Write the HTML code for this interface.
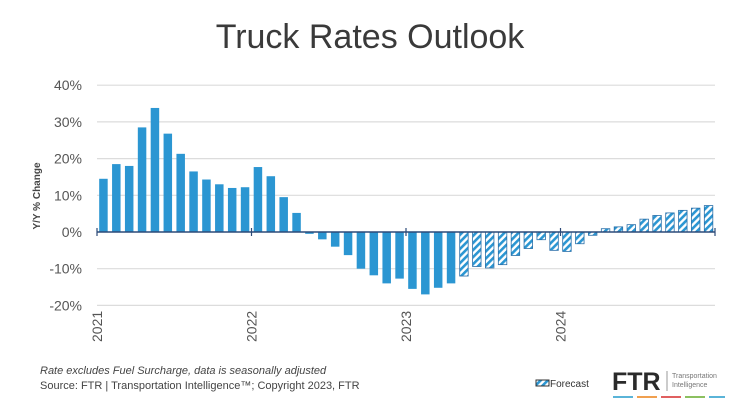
<!DOCTYPE html>
<html><head><meta charset="utf-8"><style>
body{margin:0;background:#fff;width:740px;height:405px;overflow:hidden;font-family:"Liberation Sans",sans-serif}
</style></head><body>
<svg width="740" height="405">
<defs><pattern id="hatch" patternUnits="userSpaceOnUse" width="5" height="5" patternTransform="rotate(45)"><rect width="5" height="5" fill="#fff"/><rect width="2.6" height="5" fill="#2b96d2"/></pattern></defs>
<text x="370" y="48" text-anchor="middle" font-size="34" fill="#3a3a3a">Truck Rates Outlook</text>
<text transform="translate(40,196) rotate(-90)" text-anchor="middle" font-size="10" font-weight="bold" fill="#444">Y/Y % Change</text>
<g id="grid"></g><g id="bars"></g><g id="axis"></g>
<text x="40" y="374" font-size="11" font-style="italic" fill="#444">Rate excludes Fuel Surcharge, data is seasonally adjusted</text>
<text x="40" y="389" font-size="11" fill="#444">Source: FTR | Transportation Intelligence™; Copyright 2023, FTR</text>
<g><rect x="536" y="380" width="13" height="6" fill="url(#hatch)" stroke="#333"/><text x="550" y="387" font-size="10" fill="#333">Forecast</text></g>
<g><text x="612" y="390" font-size="25" font-weight="bold" fill="#2a2a2a">FTR</text><line x1="667" y1="371" x2="667" y2="391" stroke="#999"/><text x="672" y="378" font-size="7" fill="#777">Transportation</text><text x="672" y="387" font-size="7" fill="#777">Intelligence</text>
<rect x="613" y="396" width="20" height="2" fill="#5ab4d8"/><rect x="637" y="396" width="20" height="2" fill="#f0a050"/><rect x="661" y="396" width="20" height="2" fill="#e06060"/><rect x="685" y="396" width="20" height="2" fill="#8cc060"/><rect x="709" y="396" width="16" height="2" fill="#5ab4d8"/></g>
</svg>
<script>
const values=[14.5,18.5,18,28.5,33.8,26.8,21.3,16.5,14.3,13,12,12.2,
17.7,15.2,9.5,5.2,-0.5,-2,-4,-6.3,-10,-11.8,-14,-12.7,
-15.5,-17,-15.2,-14,-12,-9.4,-9.8,-8.9,-6.4,-4.5,-2.1,-5,
-5.3,-3.2,-0.9,0.9,1.4,2,3.5,4.5,5.2,5.9,6.5,7.2];
const forecastStart=28;
const yTicks=[40,30,20,10,0,-10,-20];
const years=["2021","2022","2023","2024"];
const NS="http://www.w3.org/2000/svg";
const x0=97,x1=715,step=(x1-x0)/48;
const y=v=>232-v*3.67;
const x=i=>x0+i*step;
const grid=document.getElementById('grid'),bars=document.getElementById('bars'),axis=document.getElementById('axis');
function mk(tag,a,p){const e=document.createElementNS(NS,tag);for(const k in a)e.setAttribute(k,a[k]);p.appendChild(e);return e;}
yTicks.forEach(t=>{
 if(t!==0){const l=mk('line',{x1:x0,x2:x1,y1:y(t),y2:y(t),stroke:'#dcdcdc','stroke-width':1.2},grid);
 
 }
 const tx=mk('text',{x:82,y:y(t)+5,'text-anchor':'end','font-size':14,fill:'#555'},grid);
 tx.textContent=t+'%';
 
 
});
values.forEach((v,i)=>{
 const bw=step*0.66,bx=x(i)+(step-bw)/2;
 const fc=i>=forecastStart;
 const r=mk('rect',{x:bx,y:Math.min(y(v),y(0)),width:bw,height:Math.abs(y(v)-y(0)),fill:fc?'url(#hatch)':'#2b96d2',stroke:fc?'#2a6fa8':'none','stroke-width':0.8},bars);
 
 
});
const ax=mk('line',{x1:x0,x2:x1,y1:y(0),y2:y(0),stroke:'#2c4a78','stroke-width':1.5},axis);


years.forEach((yr,k)=>{
 const px=x(k*12);
 mk('line',{x1:px,x2:px,y1:y(0)-4,y2:y(0)+4,stroke:'#2c4a78','stroke-width':1.2},axis);
 const t=mk('text',{transform:`translate(${px+5},${342}) rotate(-90)`,'font-size':14,fill:'#555'},axis);
 t.textContent=yr;
 
 
});
mk('line',{x1:x1,x2:x1,y1:y(0)-4,y2:y(0)+4,stroke:'#2c4a78','stroke-width':1.2},axis);
</script>
</body></html>
